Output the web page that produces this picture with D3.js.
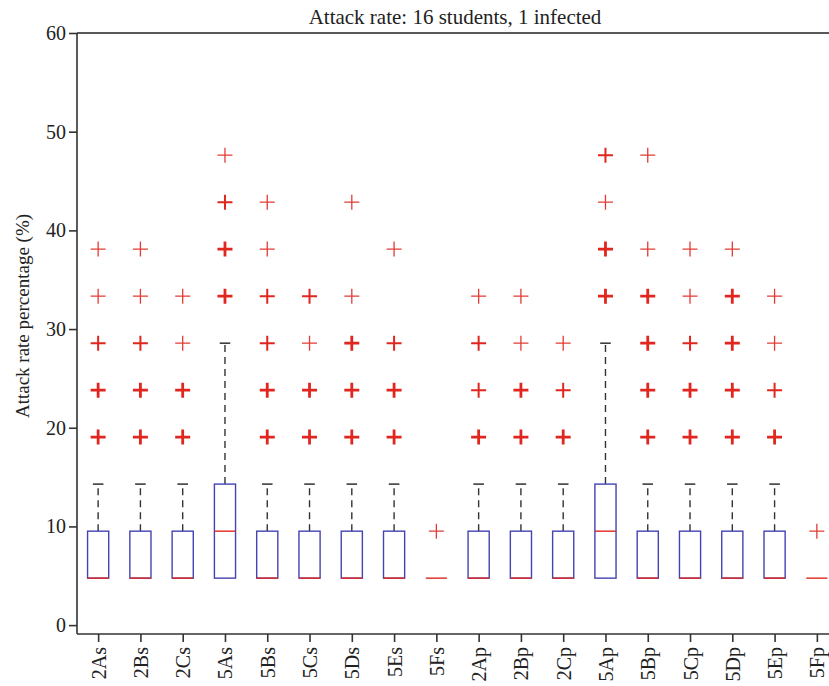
<!DOCTYPE html>
<html><head><meta charset="utf-8">
<script src="https://cdn.jsdelivr.net/npm/d3@7"></script>
<style>body{margin:0;background:#fff}svg{display:block}</style>
</head><body>
<svg id="chart" width="829" height="686"></svg>
<script>
const categories = ["2As","2Bs","2Cs","5As","5Bs","5Cs","5Ds","5Es","5Fs","2Ap","2Bp","2Cp","5Ap","5Bp","5Cp","5Dp","5Ep","5Fp"];
const q1          = [4.76,4.76,4.76,4.76,4.76,4.76,4.76,4.76,4.76,4.76,4.76,4.76,4.76,4.76,4.76,4.76,4.76,4.76];
const medians     = [4.76,4.76,4.76,9.52,4.76,4.76,4.76,4.76,4.76,4.76,4.76,4.76,9.52,4.76,4.76,4.76,4.76,4.76];
const q3          = [9.52,9.52,9.52,14.29,9.52,9.52,9.52,9.52,4.76,9.52,9.52,9.52,14.29,9.52,9.52,9.52,9.52,4.76];
const whiskerLow  = [4.76,4.76,4.76,4.76,4.76,4.76,4.76,4.76,4.76,4.76,4.76,4.76,4.76,4.76,4.76,4.76,4.76,4.76];
const whiskerHigh = [14.29,14.29,14.29,28.57,14.29,14.29,14.29,14.29,4.76,14.29,14.29,14.29,28.57,14.29,14.29,14.29,14.29,4.76];
// outliers per category: [value, overlap count]
const outliers = [
  [[38.10,1],[33.33,1],[28.57,2],[23.81,3],[19.05,3]],
  [[38.10,1],[33.33,1],[28.57,2],[23.81,3],[19.05,3]],
  [[33.33,1],[28.57,1],[23.81,3],[19.05,3]],
  [[47.62,1],[42.86,2],[38.10,3],[33.33,3]],
  [[42.86,1],[38.10,1],[33.33,2],[28.57,2],[23.81,3],[19.05,3]],
  [[33.33,2],[28.57,1],[23.81,3],[19.05,3]],
  [[42.86,1],[33.33,1],[28.57,3],[23.81,3],[19.05,3]],
  [[38.10,1],[28.57,2],[23.81,3],[19.05,3]],
  [[9.52,1]],
  [[33.33,1],[28.57,2],[23.81,2],[19.05,3]],
  [[33.33,1],[28.57,1],[23.81,3],[19.05,3]],
  [[28.57,1],[23.81,2],[19.05,3]],
  [[47.62,2],[42.86,1],[38.10,3],[33.33,3]],
  [[47.62,1],[38.10,1],[33.33,3],[28.57,3],[23.81,3],[19.05,3]],
  [[38.10,1],[33.33,1],[28.57,2],[23.81,3],[19.05,3]],
  [[38.10,1],[33.33,3],[28.57,3],[23.81,3],[19.05,3]],
  [[33.33,1],[28.57,1],[23.81,2],[19.05,3]],
  [[9.52,1]]
];
const yTicks = [0,10,20,30,40,50,60];
const titleText = "Attack rate: 16 students, 1 infected";
const yLabel = "Attack rate percentage (%)";

const svg = d3.select("#chart");
const mLeft = 77, mRight = 838, mTop = 33, mBottom = 634;
const font = "'Liberation Serif', 'Times New Roman', serif";

const x = d3.scalePoint().domain(categories).range([mLeft, mRight]).padding(0.5);
const y = d3.scaleLinear().domain([-0.9, 60]).range([mBottom, mTop]);
const step = x.step();
const boxW = step * 0.5, capW = step * 0.25, plusR = 7.5;

const data = categories.map((c, i) => ({
  c, q1: q1[i], med: medians[i], q3: q3[i], lo: whiskerLow[i], hi: whiskerHigh[i], out: outliers[i]
}));

const g = svg.append("g");

// whiskers
data.forEach(d => {
  const cx = x(d.c);
  if (d.hi > d.q3) {
    g.append("line").attr("x1", cx).attr("x2", cx).attr("y1", y(d.q3)).attr("y2", y(d.hi))
      .attr("stroke", "#333").attr("stroke-width", 1.4).attr("stroke-dasharray", "7,5");
    g.append("line").attr("x1", cx - capW/2).attr("x2", cx + capW/2).attr("y1", y(d.hi)).attr("y2", y(d.hi))
      .attr("stroke", "#222").attr("stroke-width", 1.4);
  }
  if (d.lo < d.q1) {
    g.append("line").attr("x1", cx).attr("x2", cx).attr("y1", y(d.q1)).attr("y2", y(d.lo))
      .attr("stroke", "#333").attr("stroke-width", 1.4).attr("stroke-dasharray", "7,5");
    g.append("line").attr("x1", cx - capW/2).attr("x2", cx + capW/2).attr("y1", y(d.lo)).attr("y2", y(d.lo))
      .attr("stroke", "#222").attr("stroke-width", 1.4);
  }
});

// boxes
g.selectAll("rect.box").data(data).join("rect").attr("class", "box")
  .attr("x", d => x(d.c) - boxW/2).attr("width", boxW)
  .attr("y", d => y(d.q3)).attr("height", d => y(d.q1) - y(d.q3))
  .attr("fill", "none").attr("stroke", "#4343b3").attr("stroke-width", 1.4);

// medians
g.selectAll("line.med").data(data).join("line").attr("class", "med")
  .attr("x1", d => x(d.c) - boxW/2).attr("x2", d => x(d.c) + boxW/2)
  .attr("y1", d => y(d.med)).attr("y2", d => y(d.med))
  .attr("stroke", "#e0261e").attr("stroke-width", 1.4);

// outliers
const sw = n => n >= 3 ? 2.8 : (n === 2 ? 2.0 : 1.3);
data.forEach(d => {
  d.out.forEach(([v, n]) => {
    const cx = x(d.c), cy = y(v);
    g.append("path")
      .attr("d", `M${cx - plusR},${cy}H${cx + plusR}M${cx},${cy - plusR}V${cy + plusR}`)
      .attr("stroke", "#e0261e").attr("stroke-width", sw(n)).attr("fill", "none")
      .attr("opacity", n === 1 ? 0.9 : 1);
  });
});

// axes
const yAxis = d3.axisLeft(y).tickValues(yTicks).tickSize(8).tickSizeOuter(0).tickPadding(3);
const ya = svg.append("g").attr("transform", `translate(${mLeft},0)`).call(yAxis);
ya.select(".domain").attr("d", `M0,${mTop}V${mBottom}`);
const xAxis = d3.axisBottom(x).tickSize(8).tickSizeOuter(0);
const xa = svg.append("g").attr("transform", `translate(0,${mBottom})`).call(xAxis);
xa.select(".domain").attr("d", `M${mLeft},0H${mRight}`);
xa.selectAll(".tick text")
  .attr("transform", "rotate(-90)")
  .attr("text-anchor", "end")
  .attr("x", -13).attr("y", 0).attr("dy", "0.35em");
[ya, xa].forEach(a => {
  a.attr("font-family", font);
  a.selectAll("path,line").attr("stroke", "#333").attr("stroke-width", 1.6);
  a.selectAll("text").attr("font-family", font).attr("font-size", 20).attr("fill", "#222");
});
svg.append("line").attr("x1", mLeft).attr("x2", mRight).attr("y1", mTop).attr("y2", mTop)
  .attr("stroke", "#222").attr("stroke-width", 1.6);

// title
svg.append("text").attr("x", 455).attr("y", 24).attr("text-anchor", "middle")
  .attr("font-family", font).attr("font-size", 21).attr("fill", "#222").text(titleText);

// y label
svg.append("text").attr("transform", `translate(22,${316}) rotate(-90)`).attr("text-anchor", "middle")
  .attr("font-family", font).attr("font-size", 19).attr("fill", "#222").attr("dy", "0.35em").text(yLabel);
</script>
</body></html>
